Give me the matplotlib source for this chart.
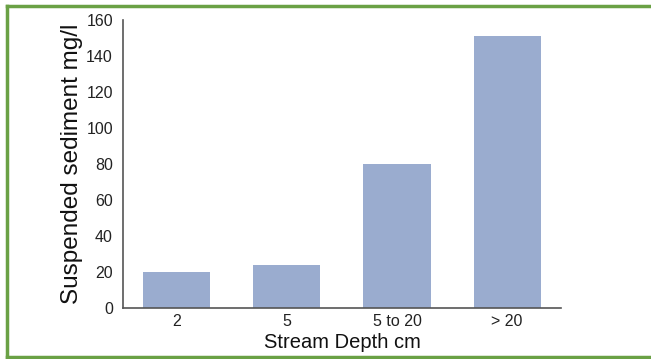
import numpy as np
import matplotlib.pyplot as plt
from matplotlib.lines import Line2D

depths = ['2', '5', '5 to 20', '> 20']
sediment = [20, 24, 80, 151]

plt.rcParams['font.family'] = ['Liberation Sans', 'DejaVu Sans']

dpi = 100
fig = plt.figure(dpi=dpi, figsize=(651 / dpi, 359 / dpi))
ax = fig.add_axes([0.1885, 0.142, 0.6735, 0.802])

xs = np.arange(len(depths))
ax.bar(xs, sediment, width=0.61, color='#9aaccf', zorder=2)

ax.set_xlim(-0.49, 3.49)
ax.set_ylim(0, 160)
ax.set_yticks(range(0, 161, 20))
ax.set_xticks(xs)
ax.set_xticklabels(depths)
ax.tick_params(length=0, labelsize=11.5, colors='#222222', pad=4)
ax.tick_params(axis='y', pad=7)

for s in ['top', 'right']:
    ax.spines[s].set_visible(False)
for s in ['left', 'bottom']:
    ax.spines[s].set_color('#555555')
    ax.spines[s].set_linewidth(1.2)

ax.set_xlabel('Stream Depth cm', fontsize=14.5, color='#111111', labelpad=3)
ax.set_ylabel('Suspended sediment mg/l', fontsize=17.5, color='#111111', labelpad=0)
ax.yaxis.set_label_coords(-0.09, 0.5)

# green frame: top, left and bottom only
W, H = 651, 359
green = '#6aa145'
fig.add_artist(Line2D([7 / W, 1], [1 - 6 / H, 1 - 6 / H], color=green, lw=2.5))
fig.add_artist(Line2D([7 / W, 7 / W], [1 - 6 / H, 1 - 357 / H], color=green, lw=2.5))
fig.add_artist(Line2D([7 / W, 1], [1 - 357 / H, 1 - 357 / H], color=green, lw=2.5))

fig.savefig('out.png', dpi=dpi)
